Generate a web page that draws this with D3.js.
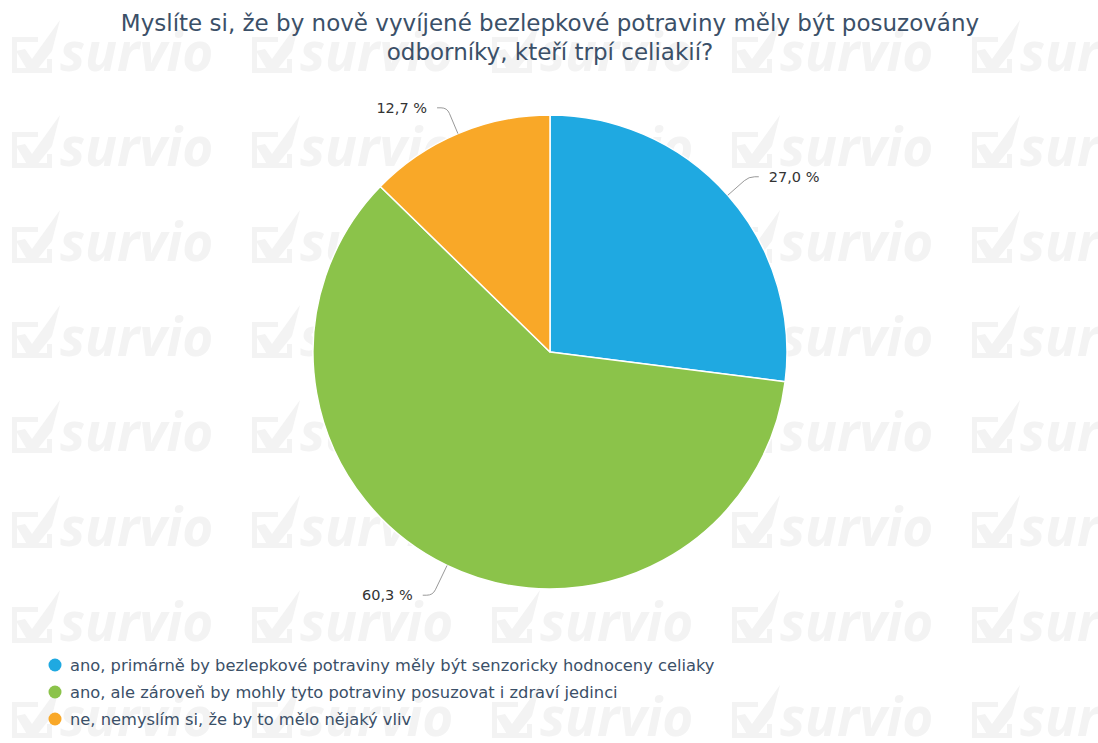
<!DOCTYPE html>
<html>
<head>
<meta charset="utf-8">
<script src="https://cdn.jsdelivr.net/npm/d3@7"></script>
<style>
  html, body { margin: 0; padding: 0; background: #fff; }
  svg { display: block; }
</style>
</head>
<body>
<div id="chart"></div>
<script>
const titleLines = [
  "Myslíte si, že by nově vyvíjené bezlepkové potraviny měly být posuzovány",
  "odborníky, kteří trpí celiakií?"
];
const categories = [
  "ano, primárně by bezlepkové potraviny měly být senzoricky hodnoceny celiaky",
  "ano, ale zároveň by mohly tyto potraviny posuzovat i zdraví jedinci",
  "ne, nemyslím si, že by to mělo nějaký vliv"
];
const values = [27.0, 60.3, 12.7];
const colors = ["#1fa9e1", "#8bc34a", "#f9a828"];

const W = 1098, H = 743;
const cx = 550, cy = 352, R = 237;

const svg = d3.select("#chart").append("svg")
  .attr("width", W)
  .attr("height", H);

// watermark tiles (box + check + "survio")
const WM = "#f3f3f3";
const wm = svg.append("g").attr("class", "watermark");
for (let row = 0; row < 8; row++) {
  for (let col = 0; col < 5; col++) {
    const tx = 12 + col * 240, ty = 37 + row * 95;
    const t = wm.append("g").attr("transform", `translate(${tx},${ty})`);
    t.append("path")
      .attr("d", "M26,2.5 H2.5 V33.5 H37.5 V22")
      .attr("fill", "none")
      .attr("stroke", WM)
      .attr("stroke-width", 5);
    t.append("path")
      .attr("d", "M4,14 L13,12 L20,22 L48,-17 L40,14 L24,34 L16,34 Z")
      .attr("fill", WM);
    t.append("text")
      .attr("x", 48)
      .attr("y", 34)
      .attr("font-family", "Open Sans, sans-serif")
      .attr("font-weight", 700)
      .attr("font-style", "italic")
      .attr("font-size", 53)
      .attr("fill", WM)
      .text("survio");
  }
}

// title
svg.append("text")
  .attr("text-anchor", "middle")
  .attr("font-family", "DejaVu Sans, sans-serif")
  .attr("font-size", 23)
  .attr("fill", "#3b5068")
  .selectAll("tspan")
  .data(titleLines)
  .join("tspan")
  .attr("x", cx)
  .attr("y", (d, i) => 31 + i * 29)
  .text(d => d);

const color = d3.scaleOrdinal().domain(categories).range(colors);

const pie = d3.pie().sort(null).value(d => d.value);
const arcs = pie(categories.map((c, i) => ({ name: c, value: values[i] })));
const arc = d3.arc().innerRadius(0).outerRadius(R);

const g = svg.append("g").attr("transform", `translate(${cx},${cy})`);

g.selectAll("path.slice")
  .data(arcs)
  .join("path")
  .attr("class", "slice")
  .attr("d", arc)
  .attr("fill", d => color(d.data.name))
  .attr("stroke", "#fff")
  .attr("stroke-width", 1.5)
  .attr("stroke-linejoin", "round");

// connectors and labels
const fmt = v => d3.format(".1f")(v).replace(".", ",") + " %";
arcs.forEach(d => {
  const a = (d.startAngle + d.endAngle) / 2;
  const dx = Math.sin(a), dy = -Math.cos(a);
  const side = dx >= 0 ? 1 : -1;
  const ext = dy > 0.5 ? 33 : 28; // lower labels sit a bit further out
  const p0 = [R * dx, R * dy];
  const p1 = [(R + ext) * dx, (R + ext) * dy];
  const k = 6;
  const pa = [p1[0] - k * dx, p1[1] - k * dy];
  const pb = [p1[0] + side * k, p1[1]];
  const p2 = [p1[0] + side * 10, p1[1]];
  g.append("path")
    .attr("d", `M${p0}L${pa}Q${p1} ${pb}L${p2}`)
    .attr("fill", "none")
    .attr("stroke", "#999")
    .attr("stroke-width", 1);
  g.append("text")
    .attr("x", p2[0] + side * 10)
    .attr("y", p1[1])
    .attr("dy", "0.35em")
    .attr("text-anchor", side > 0 ? "start" : "end")
    .attr("font-family", "DejaVu Sans, sans-serif")
    .attr("font-size", 14.5)
    .attr("fill", "#333")
    .text(fmt(d.data.value));
});

// legend
const legend = svg.append("g").attr("transform", "translate(55,665)");
const items = legend.selectAll("g")
  .data(categories)
  .join("g")
  .attr("transform", (d, i) => `translate(0,${i * 27})`);
items.append("circle")
  .attr("r", 6.5)
  .attr("fill", d => color(d));
items.append("text")
  .attr("x", 15)
  .attr("dy", "0.35em")
  .attr("font-family", "DejaVu Sans, sans-serif")
  .attr("font-size", 16.3)
  .attr("fill", "#3b5068")
  .text(d => d);
</script>
</body>
</html>
